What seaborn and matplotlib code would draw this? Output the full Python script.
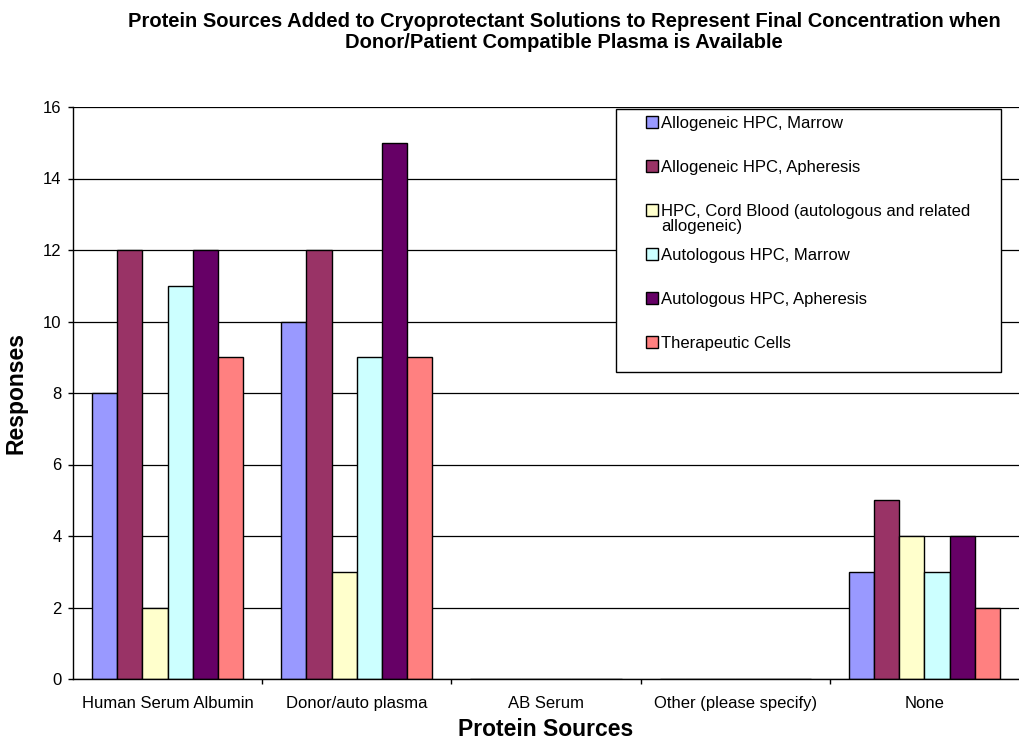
import matplotlib
matplotlib.use("Agg")
import matplotlib.pyplot as plt
from matplotlib.patches import Rectangle
import seaborn as sns
import pandas as pd
import numpy as np

categories = ["Human Serum Albumin", "Donor/auto plasma", "AB Serum",
              "Other (please specify)", "None"]
series = ["Allogeneic HPC, Marrow",
          "Allogeneic HPC, Apheresis",
          "HPC, Cord Blood (autologous and related allogeneic)",
          "Autologous HPC, Marrow",
          "Autologous HPC, Apheresis",
          "Therapeutic Cells"]
allo_marrow = [8, 10, 0, 0, 3]
allo_apheresis = [12, 12, 0, 0, 5]
cord_blood = [2, 3, 0, 0, 4]
auto_marrow = [11, 9, 0, 0, 3]
auto_apheresis = [12, 15, 0, 0, 4]
therapeutic = [9, 9, 0, 0, 2]
colors = ["#9999FF", "#993366", "#FFFFCC", "#CCFFFF", "#660066", "#FF8080"]

values = [allo_marrow, allo_apheresis, cord_blood, auto_marrow,
          auto_apheresis, therapeutic]
rows = []
for s, vals in zip(series, values):
    for c, v in zip(categories, vals):
        rows.append({"Protein Sources": c, "Series": s, "Responses": v})
df = pd.DataFrame(rows)

sns.set_style("white")
plt.rcParams["font.family"] = ["Liberation Sans", "DejaVu Sans"]
plt.rcParams.update({"text.color": "black", "axes.labelcolor": "black",
                     "xtick.color": "black", "ytick.color": "black"})

W, H = 1019, 750
fig = plt.figure(figsize=(W / 100, H / 100), dpi=100)
ax = fig.add_axes([73 / W, 1 - 679 / H, 1 - 73 / W, (679 - 107) / H])

sns.barplot(data=df, x="Protein Sources", y="Responses", hue="Series",
            order=categories, hue_order=series, palette=colors,
            width=0.8, edgecolor="black", linewidth=1.0, saturation=1,
            errorbar=None, ax=ax)

ax.set_ylim(0, 16)
ax.set_xlim(-0.5, 4.5)
ax.set_yticks(np.arange(0, 17, 2))
ax.yaxis.grid(True, color="black", linewidth=0.9)
ax.set_axisbelow(True)
for side in ["top", "right"]:
    ax.spines[side].set_visible(False)
for side in ["left", "bottom"]:
    ax.spines[side].set_color("black")
    ax.spines[side].set_linewidth(1.0)

ax.tick_params(axis="y", which="major", left=True, length=3.6, width=1,
               color="black", labelcolor="black", labelsize=12, pad=4.5)
ax.tick_params(axis="x", which="major", bottom=False, labelcolor="black",
               labelsize=12, pad=9)
ax.set_xticks(np.arange(0.5, 4.5, 1), minor=True)
ax.tick_params(axis="x", which="minor", bottom=True, length=3.6, width=1,
               color="black")

ax.set_xlabel("Protein Sources", fontsize=16.5, fontweight="bold",
              color="black")
ax.xaxis.set_label_coords(0.5, -0.068)
ax.set_ylabel("Responses", fontsize=16.5, fontweight="bold", color="black")
ax.yaxis.set_label_coords(-0.048, 0.5)

fig.text(564 / W, 1 - 32 / H,
         "Protein Sources Added to Cryoprotectant Solutions to Represent Final Concentration when\nDonor/Patient Compatible Plasma is Available",
         ha="center", va="center", fontsize=14.5, fontweight="bold",
         linespacing=1.1, color="black")

# Legend box, drawn above the gridlines
ax.add_patch(Rectangle((616 / W, 1 - 372 / H), (1001 - 616) / W,
                       (372 - 109) / H, transform=fig.transFigure,
                       facecolor="white", edgecolor="black",
                       linewidth=1.0, zorder=4, clip_on=False))

# Legend rows on a fixed pitch; the long cord blood label wraps onto a
# second line inside the gap below its row.
handles, _ = ax.get_legend_handles_labels()
row_labels = list(series)
row_labels[2] = "HPC, Cord Blood (autologous and related"
leg = ax.legend(handles, row_labels, loc="upper left",
                bbox_to_anchor=(646 / W, 1 - 116 / H),
                bbox_transform=fig.transFigure, frameon=False,
                fontsize=12, handlelength=0.72, handleheight=0.72,
                handletextpad=0.2, labelspacing=1.74, borderpad=0,
                borderaxespad=0, title=None)
for h in leg.legend_handles:
    h.set_edgecolor("black")
    h.set_linewidth(1.0)
for t in leg.get_texts():
    t.set_color("black")
leg.set_zorder(6)

fig.canvas.draw()
renderer = fig.canvas.get_renderer()
bb = leg.get_texts()[2].get_window_extent(renderer)
x0, y0 = fig.transFigure.inverted().transform((bb.x0, bb.y0))
ax.text(x0, y0, "allogeneic)", fontsize=12, ha="left", va="top",
        color="black", transform=fig.transFigure, zorder=7, clip_on=False)

fig.savefig("out.png", dpi=100, facecolor="white")
